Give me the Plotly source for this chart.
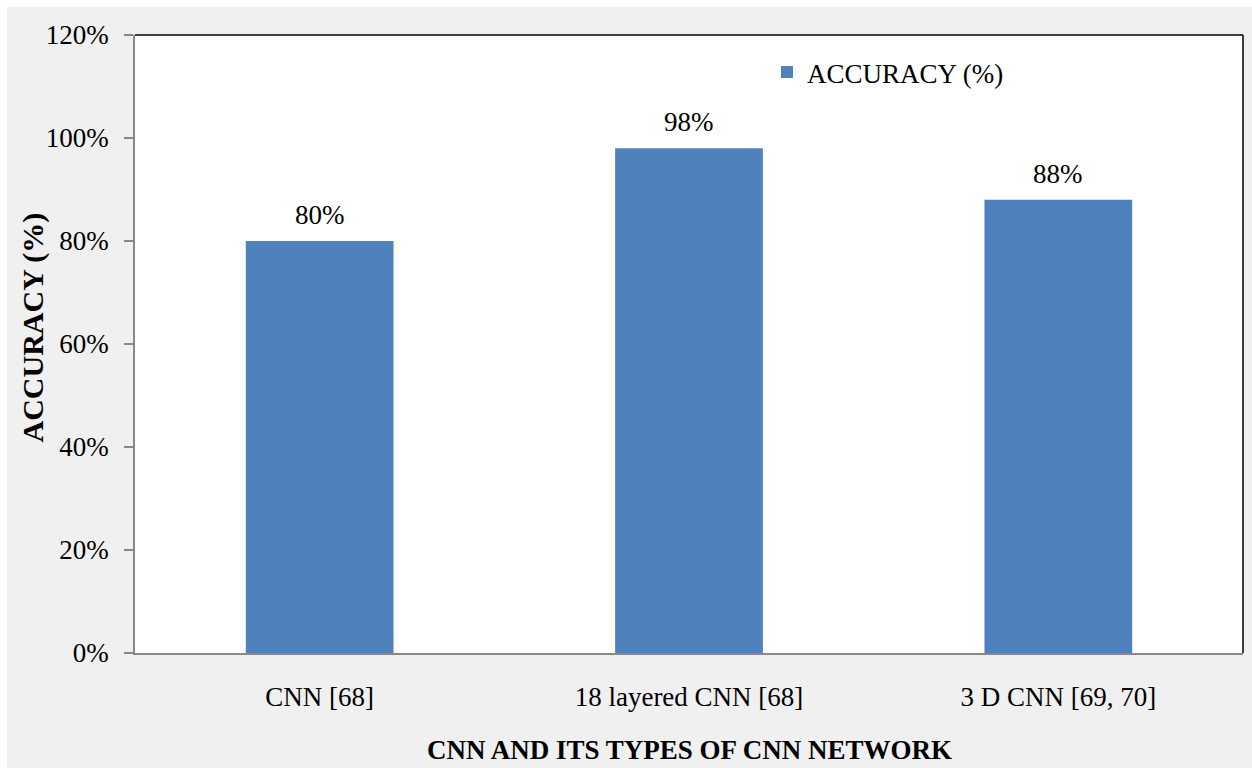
import plotly.graph_objects as go

categories = ["CNN [68]", "18 layered CNN [68]", "3 D CNN [69, 70]"]
accuracy = [80, 98, 88]
labels = ["80%", "98%", "88%"]
tick_vals = [0, 20, 40, 60, 80, 100, 120]
tick_text = ["0%", "20%", "40%", "60%", "80%", "100%", "120%"]

FONT = "Liberation Serif"
FS = 27

fig = go.Figure()
fig.add_trace(go.Bar(
    x=categories, y=accuracy, name="ACCURACY (%)",
    marker=dict(color="#4f81bd", line=dict(width=0)),
    width=0.4,
))

for c, v, t in zip(categories, accuracy, labels):
    fig.add_annotation(x=c, y=v, text=t, showarrow=False, yanchor="bottom",
                       yshift=9, font=dict(family=FONT, size=FS, color="#000"))

L, R, T, B = 135, 9, 35, 115
W, H = 1252, 768
pw, ph = W - L - R, H - T - B

def px_x(p):
    return (p - L) / pw

def px_y(p):
    return (H - B - p) / ph

# axis titles
fig.add_annotation(xref="paper", yref="paper", x=px_x(689), y=px_y(750),
                   text="<b>CNN AND ITS TYPES OF CNN NETWORK</b>", showarrow=False,
                   xanchor="center", yanchor="middle",
                   font=dict(family=FONT, size=FS, color="#000"))
fig.add_annotation(xref="paper", yref="paper", x=px_x(32), y=px_y(327.5),
                   text="<b>ACCURACY (%)</b>", showarrow=False, textangle=-90,
                   xanchor="center", yanchor="middle",
                   font=dict(family=FONT, size=30, color="#000"))

shapes = [
    dict(type="rect", xref="paper", yref="paper", x0=px_x(7), x1=px_x(1252), y0=px_y(768), y1=px_y(7),
         fillcolor="#f0f0f0", line=dict(width=0), layer="below"),
    dict(type="rect", xref="paper", yref="paper", x0=0, x1=1, y0=0, y1=1,
         fillcolor="#ffffff", line=dict(width=0), layer="below"),
    dict(type="line", xref="paper", yref="paper", x0=0, x1=1, y0=1, y1=1,
         line=dict(color="#000", width=1.5)),
    dict(type="line", xref="paper", yref="paper", x0=1, x1=1, y0=0, y1=1,
         line=dict(color="#000", width=1.5)),
]

fig.update_layout(
    width=W, height=H,
    margin=dict(l=L, r=R, t=T, b=B),
    paper_bgcolor="#ffffff",
    plot_bgcolor="rgba(0,0,0,0)",
    font=dict(family=FONT, color="#000"),
    showlegend=True,
    legend=dict(x=px_x(767), y=px_y(48), xanchor="left", yanchor="top",
                bgcolor="rgba(0,0,0,0)", font=dict(family=FONT, size=FS, color="#000"),
                itemwidth=30),
    shapes=shapes,
    xaxis=dict(
        automargin=False,
        showline=True, linecolor="#888", linewidth=1.5,
        showgrid=False, ticks="", tickfont=dict(family=FONT, size=FS, color="#000"),
        ticklabelstandoff=19,
    ),
    yaxis=dict(
        automargin=False,
        range=[0, 120], tickvals=tick_vals, ticktext=tick_text,
        showline=True, linecolor="#888", linewidth=1.5,
        showgrid=False, zeroline=False,
        ticks="outside", ticklen=9, tickcolor="#888", tickwidth=1.5,
        ticklabelstandoff=10,
        tickfont=dict(family=FONT, size=FS, color="#000"),
    ),
)

fig.write_html("out.html")
